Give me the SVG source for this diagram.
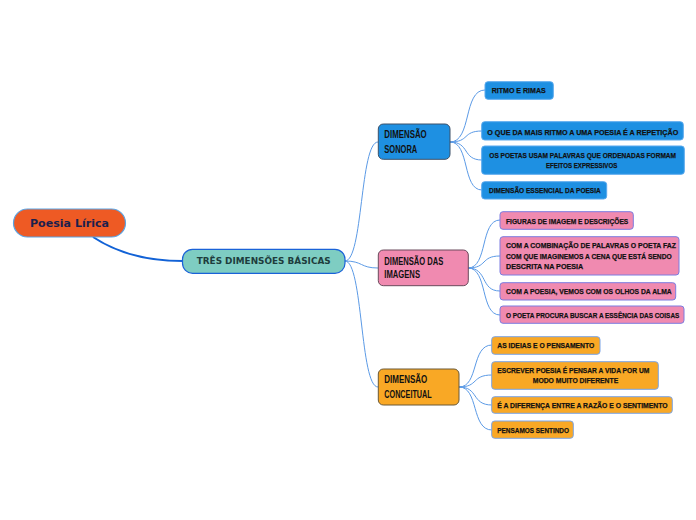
<svg xmlns="http://www.w3.org/2000/svg" width="696" height="520" viewBox="0 0 696 520">
<style>
.conn{fill:none;stroke:#5b9ae6;stroke-width:1}
.main{fill:none;stroke:#1262d6;stroke-width:2}
.leaf{font-family:"Liberation Sans",Arial,sans-serif;font-weight:bold;font-size:7.8px;fill:#111;stroke:#111;stroke-width:0.25}
.dim{font-family:"Liberation Sans",Arial,sans-serif;font-weight:bold;font-size:11px;fill:#111}
.bl{fill:#1e90e2;stroke:#5aa9ee;stroke-width:1}
.pk{fill:#f08ab0;stroke:#7c7ce0;stroke-width:1}
.or{fill:#f9a825;stroke:#7aa4e6;stroke-width:1}
</style>
<rect width="696" height="520" fill="#fff"/>
<g id="connectors">
<path class="main" d="M93,237 C120,255 150,261 183,261"/>
<path class="conn" d="M345,261 C363,261 360,142 378,142"/>
<path class="conn" d="M345,261 C363,261 360,268 378,268"/>
<path class="conn" d="M345,261 C363,261 360,387 378,387"/>
<path class="conn" d="M450,142 C472,142 463,90 485,90"/>
<path class="conn" d="M450,142 C470,142 462,131 482,131"/>
<path class="conn" d="M450,142 C470,142 462,160 482,160"/>
<path class="conn" d="M450,142 C470,142 462,190 482,190"/>
<path class="conn" d="M468,268 C488,268 480,220 500,220"/>
<path class="conn" d="M468,268 C488,268 480,256 500,256"/>
<path class="conn" d="M468,268 C488,268 480,291 500,291"/>
<path class="conn" d="M468,268 C488,268 480,315 500,315"/>
<path class="conn" d="M459,387 C479,387 471,345 492,345"/>
<path class="conn" d="M459,387 C479,387 471,375 492,375"/>
<path class="conn" d="M459,387 C479,387 471,405 492,405"/>
<path class="conn" d="M459,387 C479,387 471,430 492,430"/>
</g>
<g id="root">
<rect x="13.5" y="209" width="112" height="28" rx="14" fill="#ee5a24" stroke="#5aa4e4" stroke-width="1.2"/>
<text x="69.5" y="227.3" text-anchor="middle" font-family="DejaVu Sans,Verdana,sans-serif" font-weight="bold" font-size="11" fill="#1b1f4d" textLength="79" lengthAdjust="spacingAndGlyphs">Poesia Lírica</text>
</g>
<g id="central">
<rect x="182.5" y="249.3" width="162.5" height="24" rx="10" fill="#7ecdc2" stroke="#1a62d8" stroke-width="1.2"/>
<text x="263.7" y="264.3" text-anchor="middle" font-family="DejaVu Sans,Verdana,sans-serif" font-weight="bold" font-size="8.5" fill="#1e3d3d" textLength="134" lengthAdjust="spacingAndGlyphs">TRÊS DIMENSÕES BÁSICAS</text>
</g>
<g id="sonora">
<rect x="378.3" y="124" width="71.7" height="35.3" rx="5" fill="#1e90e2" stroke="#3c5068" stroke-width="1"/>
<text class="dim" x="384.3" y="138.3" textLength="42.4" lengthAdjust="spacingAndGlyphs">DIMENSÃO</text>
<text class="dim" x="384.3" y="152.7" textLength="33" lengthAdjust="spacingAndGlyphs">SONORA</text>
</g>
<g id="s1">
<rect class="bl" x="485" y="81.7" width="68.3" height="17.6" rx="3"/>
<text class="leaf" x="491.7" y="93.3" textLength="54" lengthAdjust="spacingAndGlyphs">RITMO E RIMAS</text>
</g>
<g id="s2">
<rect class="bl" x="481.7" y="121.7" width="201.6" height="18.3" rx="3"/>
<text class="leaf" x="487.3" y="134.5" textLength="191" lengthAdjust="spacingAndGlyphs">O QUE DA MAIS RITMO A UMA POESIA É A REPETIÇÃO</text>
</g>
<g id="s3">
<rect class="bl" x="481.7" y="146" width="202.6" height="28.3" rx="3"/>
<text class="leaf" x="489.3" y="158.3" textLength="186.7" lengthAdjust="spacingAndGlyphs">OS POETAS USAM PALAVRAS QUE ORDENADAS FORMAM</text>
<text class="leaf" x="546" y="167.9" textLength="71.3" lengthAdjust="spacingAndGlyphs">EFEITOS EXPRESSIVOS</text>
</g>
<g id="s4">
<rect class="bl" x="481.7" y="181.7" width="125" height="17.3" rx="3"/>
<text class="leaf" x="489" y="193.3" textLength="111.7" lengthAdjust="spacingAndGlyphs">DIMENSÃO ESSENCIAL DA POESIA</text>
</g>
<g id="imagens">
<rect x="378.3" y="250" width="90" height="35.7" rx="5" fill="#f08ab0" stroke="#6a4a5c" stroke-width="1"/>
<text class="dim" x="384.3" y="265" textLength="59" lengthAdjust="spacingAndGlyphs">DIMENSÃO DAS</text>
<text class="dim" x="384.3" y="278.3" textLength="35.7" lengthAdjust="spacingAndGlyphs">IMAGENS</text>
</g>
<g id="i1">
<rect class="pk" x="500" y="211.7" width="133.3" height="17.6" rx="3"/>
<text class="leaf" x="506" y="224" textLength="122.3" lengthAdjust="spacingAndGlyphs">FIGURAS DE IMAGEM E DESCRIÇÕES</text>
</g>
<g id="i2">
<rect class="pk" x="500" y="236.7" width="179" height="38.3" rx="3"/>
<text class="leaf" x="506" y="248.3" textLength="170" lengthAdjust="spacingAndGlyphs">COM A COMBINAÇÃO DE PALAVRAS O POETA FAZ</text>
<text class="leaf" x="506" y="259.3" textLength="165.7" lengthAdjust="spacingAndGlyphs">COM QUE IMAGINEMOS A CENA QUE ESTÁ SENDO</text>
<text class="leaf" x="506" y="269.3" textLength="77.3" lengthAdjust="spacingAndGlyphs">DESCRITA NA POESIA</text>
</g>
<g id="i3">
<rect class="pk" x="500" y="282.7" width="175.7" height="17.3" rx="3"/>
<text class="leaf" x="506" y="294.3" textLength="165.7" lengthAdjust="spacingAndGlyphs">COM A POESIA, VEMOS COM OS OLHOS DA ALMA</text>
</g>
<g id="i4">
<rect class="pk" x="500" y="306" width="184" height="17.3" rx="3"/>
<text class="leaf" x="506" y="317.7" textLength="173.3" lengthAdjust="spacingAndGlyphs">O POETA PROCURA BUSCAR A ESSÊNCIA DAS COISAS</text>
</g>
<g id="conceitual">
<rect x="378.3" y="369" width="80.7" height="36" rx="5" fill="#f9a825" stroke="#6a5836" stroke-width="1"/>
<text class="dim" x="384.3" y="383.3" textLength="43" lengthAdjust="spacingAndGlyphs">DIMENSÃO</text>
<text class="dim" x="384.3" y="398.3" textLength="47.4" lengthAdjust="spacingAndGlyphs">CONCEITUAL</text>
</g>
<g id="c1">
<rect class="or" x="491.7" y="336.7" width="108.3" height="17.6" rx="3"/>
<text class="leaf" x="497.3" y="348.3" textLength="97" lengthAdjust="spacingAndGlyphs">AS IDEIAS E O PENSAMENTO</text>
</g>
<g id="c2">
<rect class="or" x="491.7" y="361.7" width="166.6" height="27.6" rx="3"/>
<text class="leaf" x="497.3" y="373.3" textLength="152" lengthAdjust="spacingAndGlyphs">ESCREVER POESIA É PENSAR A VIDA POR UM</text>
<text class="leaf" x="532.7" y="383.3" textLength="85.6" lengthAdjust="spacingAndGlyphs">MODO MUITO DIFERENTE</text>
</g>
<g id="c3">
<rect class="or" x="491.7" y="396.7" width="180.6" height="16.6" rx="3"/>
<text class="leaf" x="497.3" y="408.3" textLength="170.4" lengthAdjust="spacingAndGlyphs">É A DIFERENÇA ENTRE A RAZÃO E O SENTIMENTO</text>
</g>
<g id="c4">
<rect class="or" x="491.7" y="421" width="81.6" height="17.3" rx="3"/>
<text class="leaf" x="497.3" y="432.7" textLength="71.7" lengthAdjust="spacingAndGlyphs">PENSAMOS SENTINDO</text>
</g>
</svg>
